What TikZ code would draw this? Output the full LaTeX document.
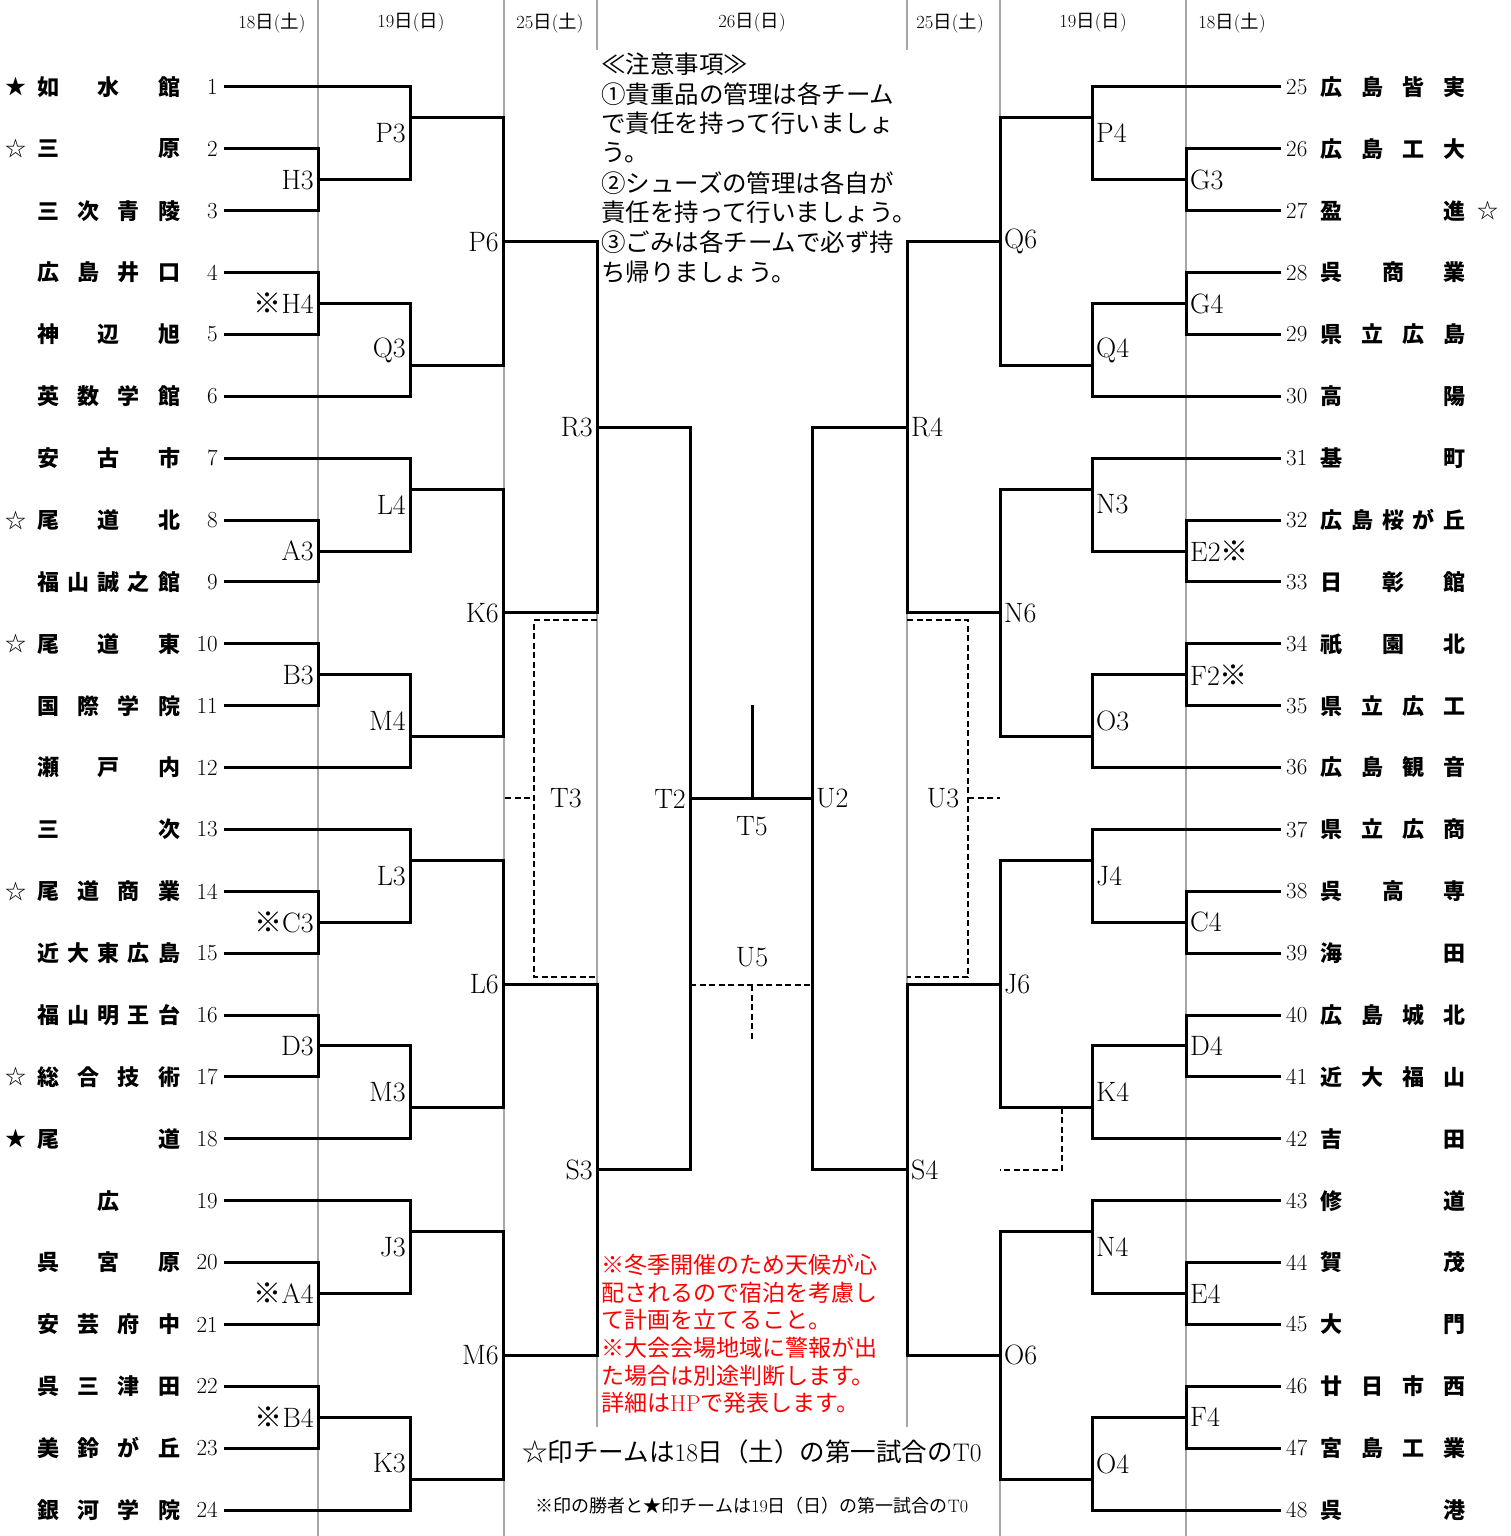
\documentclass[tikz,border=0pt]{standalone}
\usepackage{fontspec}
\newfontfamily\jp{Noto Sans CJK JP}
\newcommand\kome{{\jp ※}}
\newcommand\hday[2]{#1{\jp 日}({\jp #2})}
\tikzset{
  bk/.style={line width=3pt,line cap=rect},
  col/.style={gray!70,line width=1.2pt},
  dsh/.style={line width=2.5pt,dash pattern=on 6pt off 3.5pt},
  lbl/.style={inner sep=0pt,font=\fontsize{28}{28}\selectfont},
  num/.style={inner sep=0pt,font=\fontsize{23}{23}\selectfont},
  school/.style={inner sep=0pt,font=\jp\bfseries\fontsize{22}{22}\selectfont},
  sym/.style={inner sep=0pt,font=\jp\fontsize{21}{21}\selectfont},
  hd/.style={inner sep=0pt,font=\fontsize{18.5}{18.5}\selectfont},
  note/.style={inner sep=0pt,anchor=west,font=\jp\fontsize{24.5}{24.5}\selectfont},
  warn/.style={inner sep=0pt,anchor=west,red,font=\jp\fontsize{23}{23}\selectfont},
}
\begin{document}
\begin{tikzpicture}[x=1pt,y=-1pt,declare function={row(\u)=87+(\u-1)*61.87;}]
\useasboundingbox (0,0) rectangle (1510,1536);
% column rules
\foreach \x in {318,504,1186} \draw[col] (\x,0) -- (\x,1536);
\foreach \x in {597,907} \draw[col] (\x,0) -- (\x,50) (\x,612) -- (\x,985) (\x,1356) -- (\x,1427);
\draw[col] (1000,0) -- (1000,118) (1000,1480) -- (1000,1536);
% dates
\foreach \x/\d/\w in {272/18/土,411/19/日,550/25/土,752/26/日,950/25/土,1093/19/日,1232/18/土}
  \node[hd] (d\x) at (\x,23) {\hday{\d}{\w}};
% teams, left
\foreach \k/\nm/\s in {1/{如\hfill 水\hfill 館}/★,2/{三\hfill 原}/☆,3/{三\hfill 次\hfill 青\hfill 陵}/{},
  4/{広\hfill 島\hfill 井\hfill 口}/{},5/{神\hfill 辺\hfill 旭}/{},6/{英\hfill 数\hfill 学\hfill 館}/{},
  7/{安\hfill 古\hfill 市}/{},8/{尾\hfill 道\hfill 北}/☆,9/{福\hfill 山\hfill 誠\hfill 之\hfill 館}/{},
  10/{尾\hfill 道\hfill 東}/☆,11/{国\hfill 際\hfill 学\hfill 院}/{},12/{瀬\hfill 戸\hfill 内}/{},
  13/{三\hfill 次}/{},14/{尾\hfill 道\hfill 商\hfill 業}/☆,15/{近\hfill 大\hfill 東\hfill 広\hfill 島}/{},
  16/{福\hfill 山\hfill 明\hfill 王\hfill 台}/{},17/{総\hfill 合\hfill 技\hfill 術}/☆,18/{尾\hfill 道}/★,
  19/{\hfill 広\hfill}/{},20/{呉\hfill 宮\hfill 原}/{},21/{安\hfill 芸\hfill 府\hfill 中}/{},
  22/{呉\hfill 三\hfill 津\hfill 田}/{},23/{美\hfill 鈴\hfill が\hfill 丘}/{},24/{銀\hfill 河\hfill 学\hfill 院}/{}} {
  \node[sym] (s\k) at (16,{row(\k)}) {\s};
  \node[school] (t\k) at (108.5,{row(\k)}) {\hbox to 143pt{\nm}};
  \node[num,anchor=east] (n\k) at (218,{row(\k)}) {\k};
}
% teams, right
\foreach \k/\nm in {25/{広\hfill 島\hfill 皆\hfill 実},26/{広\hfill 島\hfill 工\hfill 大},27/{盈\hfill 進},
  28/{呉\hfill 商\hfill 業},29/{県\hfill 立\hfill 広\hfill 島},30/{高\hfill 陽},31/{基\hfill 町},
  32/{広\hfill 島\hfill 桜\hfill が\hfill 丘},33/{日\hfill 彰\hfill 館},34/{祇\hfill 園\hfill 北},
  35/{県\hfill 立\hfill 広\hfill 工},36/{広\hfill 島\hfill 観\hfill 音},37/{県\hfill 立\hfill 広\hfill 商},
  38/{呉\hfill 高\hfill 専},39/{海\hfill 田},40/{広\hfill 島\hfill 城\hfill 北},41/{近\hfill 大\hfill 福\hfill 山},
  42/{吉\hfill 田},43/{修\hfill 道},44/{賀\hfill 茂},45/{大\hfill 門},46/{廿\hfill 日\hfill 市\hfill 西},
  47/{宮\hfill 島\hfill 工\hfill 業},48/{呉\hfill 港}} {
  \node[school] (t\k) at (1393,{row(\k-24)}) {\hbox to 145pt{\nm}};
  \node[num,anchor=west] (n\k) at (1286,{row(\k-24)}) {\k};
}
\node[sym] (s27) at (1488,{row(3)}) {☆};
% team lines
\foreach \k in {1,6,7,12,13,18,19,24} \draw[bk] ([xshift=7pt]n\k.east) -- (410,{row(\k)});
\foreach \k in {2,3,4,5,8,9,10,11,14,15,16,17,20,21,22,23} \draw[bk] ([xshift=7pt]n\k.east) -- (318,{row(\k)});
\foreach \k in {25,30,31,36,37,42,43,48} \draw[bk] ([xshift=-7pt]n\k.west) -- (1092,{row(\k-24)});
\foreach \k in {26,27,28,29,32,33,34,35,38,39,40,41,44,45,46,47} \draw[bk] ([xshift=-7pt]n\k.west) -- (1186,{row(\k-24)});
% matches, left
\foreach \x/\xo/\a/\b/\o/\nm/\lab in {318/410/2/3/2.5/H3/H3,318/410/4/5/4.5/H4/{\kome H4},
  318/410/8/9/8.5/A3/A3,318/410/10/11/10.5/B3/B3,318/410/14/15/14.5/C3/{\kome C3},
  318/410/16/17/16.5/D3/D3,318/410/20/21/20.5/A4/{\kome A4},318/410/22/23/22.5/B4/{\kome B4},
  410/503/1/2.5/1.5/P3/P3,410/503/4.5/6/5.5/Q3/Q3,410/503/7/8.5/7.5/L4/L4,410/503/10.5/12/11.5/M4/M4,
  410/503/13/14.5/13.5/L3/L3,410/503/16.5/18/17.5/M3/M3,410/503/19/20.5/19.5/J3/J3,410/503/22.5/24/23.5/K3/K3,
  503/597/1.5/5.5/3.5/P6/P6,503/597/7.5/11.5/9.5/K6/K6,503/597/13.5/17.5/15.5/L6/L6,503/597/19.5/23.5/21.5/M6/M6,
  597/690/3.5/9.5/6.5/R3/R3,597/690/15.5/21.5/18.5/S3/S3,690/812/6.5/18.5/12.5/T2/T2} {
  \draw[bk] (\x,{row(\a)}) -- (\x,{row(\b)}) (\x,{row(\o)}) -- (\xo,{row(\o)});
  \node[lbl,anchor=east] (\nm) at (\x-4,{row((\a+\b)/2)}) {\lab};
}
% matches, right
\foreach \x/\xo/\a/\b/\o/\nm/\lab in {1186/1092/2/3/2.5/G3/G3,1186/1092/4/5/4.5/G4/G4,
  1186/1092/8/9/8.5/E2/{E2\kome},1186/1092/10/11/10.5/F2/{F2\kome},1186/1092/14/15/14.5/C4/C4,
  1186/1092/16/17/16.5/D4/D4,1186/1092/20/21/20.5/E4/E4,1186/1092/22/23/22.5/F4/F4,
  1092/1000/1/2.5/1.5/P4/P4,1092/1000/4.5/6/5.5/Q4/Q4,1092/1000/7/8.5/7.5/N3/N3,1092/1000/10.5/12/11.5/O3/O3,
  1092/1000/13/14.5/13.5/J4/J4,1092/1000/16.5/18/17.5/K4/K4,1092/1000/19/20.5/19.5/N4/N4,1092/1000/22.5/24/23.5/O4/O4,
  1000/907/1.5/5.5/3.5/Q6/Q6,1000/907/7.5/11.5/9.5/N6/N6,1000/907/13.5/17.5/15.5/J6/J6,1000/907/19.5/23.5/21.5/O6/O6,
  907/812/3.5/9.5/6.5/R4/R4,907/812/15.5/21.5/18.5/S4/S4,812/812/6.5/18.5/12.5/U2/U2} {
  \draw[bk] (\x,{row(\a)}) -- (\x,{row(\b)}) (\x,{row(\o)}) -- (\xo,{row(\o)});
  \node[lbl,anchor=west] (\nm) at (\x+4,{row((\a+\b)/2)}) {\lab};
}
% final and third place
\node[lbl] (T3) at (566,798) {T3};
\node[lbl] (U3) at (943,798) {U3};
\node[lbl] (T5) at (752,826) {T5};
\node[lbl] (U5) at (752,957) {U5};
\draw[bk] (752,706) -- (752,{row(12.5)});
\draw[dsh] (597,620) -- (534,620) -- (534,977) -- (597,977) (505,798) -- (534,798);
\draw[dsh] (907,620) -- (968,620) -- (968,977) -- (907,977) (968,798) -- (1000,798);
\draw[dsh] (690,985) -- (812,985) (752,985) -- (752,1040);
\draw[dsh] (1062,{row(17.5)}) -- (1062,1170) -- (1000,1170);
% notes
\foreach \t [count=\i] in {≪注意事項≫,①貴重品の管理は各チーム,で責任を持って行いましょ,う。,
  ②シューズの管理は各自が,責任を持って行いましょう。,③ごみは各チームで必ず持,ち帰りましょう。}
  \node[note] (c\i) at (601,{64+(\i-1)*29.7}) {\t};
\foreach \t [count=\i] in {※冬季開催のため天候が心,配されるので宿泊を考慮し,て計画を立てること。,
  ※大会会場地域に警報が出,た場合は別途判断します。,詳細は{\rmfamily HP}で発表します。}
  \node[warn] (w\i) at (601,{1265+(\i-1)*27.6}) {\t};
\node[inner sep=0pt,font=\jp\fontsize{25.5}{25.5}\selectfont] (foot1) at (752,1452)
  {☆印チームは{\rmfamily 18}日（土）の第一試合の{\rmfamily T0}};
\node[inner sep=0pt,font=\jp\fontsize{18}{18}\selectfont] (foot2) at (752,1506)
  {※印の勝者と★印チームは{\rmfamily 19}日（日）の第一試合の{\rmfamily T0}};
\end{tikzpicture}
\end{document}
